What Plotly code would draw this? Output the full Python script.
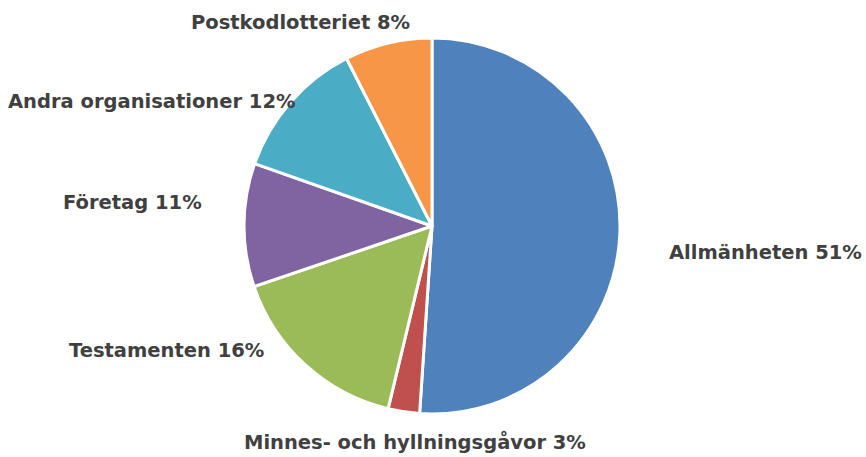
import plotly.graph_objects as go

categories = ["Allmänheten", "Minnes- och hyllningsgåvor", "Testamenten", "Företag",
              "Andra organisationer", "Postkodlotteriet"]
# slice shares
values = [51.0, 2.7, 16.0, 10.6, 12.1, 7.5]
# percentages as printed in the labels
pct_labels = [51, 3, 16, 11, 12, 8]
colors = ["#4F81BD", "#C0504D", "#9BBB59", "#8064A2", "#4BACC6", "#F79646"]

W, H = 866, 457
cx, cy, r = 432, 226, 188

fig = go.Figure(go.Pie(
    labels=categories, values=values, sort=False, direction="clockwise", rotation=0,
    marker=dict(colors=colors, line=dict(color="white", width=3)),
    textinfo="none", hoverinfo="label+percent", showlegend=False,
    domain=dict(x=[(cx - r) / W, (cx + r) / W], y=[1 - (cy + r) / H, 1 - (cy - r) / H]),
))

# label positions (pixel centres)
label_pos = [(765, 252), (415, 442), (166, 350), (132, 203), (152, 102), (300, 22)]
for cat, pct, (px, py) in zip(categories, pct_labels, label_pos):
    fig.add_annotation(x=px / W, y=1 - py / H, xref="paper", yref="paper",
                       text=f"<b>{cat} {pct}%</b>", showarrow=False,
                       font=dict(family="DejaVu Sans", size=19.5, color="#404040"),
                       xanchor="center", yanchor="middle")

fig.update_layout(width=W, height=H, margin=dict(l=0, r=0, t=0, b=0),
                  paper_bgcolor="white", plot_bgcolor="white")
fig.write_html("out.html", config={"displayModeBar": False})

with open("out.html", encoding="utf-8") as f:
    html = f.read()
html = html.replace("<head>", "<head><style>html,body{margin:0;padding:0;overflow:hidden}</style>", 1)
with open("out.html", "w", encoding="utf-8") as f:
    f.write(html)
